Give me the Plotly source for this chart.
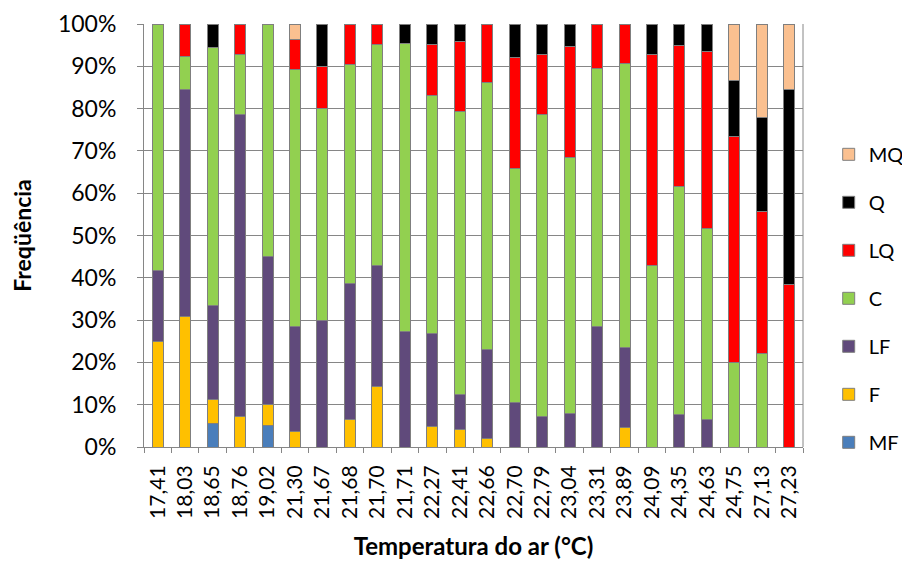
import plotly.graph_objects as go

categories = ["17,41", "18,03", "18,65", "18,76", "19,02", "21,30", "21,67", "21,68",
              "21,70", "21,71", "22,27", "22,41", "22,66", "22,70", "22,79", "23,04",
              "23,31", "23,89", "24,09", "24,35", "24,63", "24,75", "27,13", "27,23"]

MF = [0, 0, 5.6, 0, 5, 0, 0, 0, 0, 0, 0, 0, 0, 0, 0, 0, 0, 0, 0, 0, 0, 0, 0, 0]
F = [25, 30.8, 5.6, 7.1, 5, 3.6, 0, 6.5, 14.3, 0, 4.8, 4.1, 2.1, 0, 0, 0, 0, 4.6, 0, 0, 0, 0, 0, 0]
LF = [16.7, 53.8, 22.2, 71.4, 35, 25, 30, 32.3, 28.6, 27.3, 22.1, 8.3, 21.0, 10.6, 7.1, 7.9,
      28.5, 19.0, 0, 7.6, 6.5, 0, 0, 0]
C = [58.3, 7.7, 61.1, 14.3, 55, 60.7, 50, 51.6, 52.4, 68.2, 56.2, 66.9, 63.0, 55.3, 71.6, 60.5,
     61.0, 67.0, 42.9, 54.0, 45.2, 20.0, 22.2, 0]
LQ = [0, 7.7, 0, 7.1, 0, 7.1, 10, 9.7, 4.8, 0, 12.1, 16.5, 13.9, 26.2, 14.2, 26.4,
      10.5, 9.4, 50.0, 33.4, 41.9, 53.3, 33.4, 38.5]
Q = [0, 0, 5.6, 0, 0, 0, 10, 0, 0, 4.5, 4.8, 4.2, 0, 7.9, 7.1, 5.2,
     0, 0, 7.1, 5.0, 6.4, 13.4, 22.2, 46.1]
MQ = [0, 0, 0, 0, 0, 3.6, 0, 0, 0, 0, 0, 0, 0, 0, 0, 0, 0, 0, 0, 0, 0, 13.3, 22.2, 15.4]

series = [("MF", MF, "#4A7EBB"), ("F", F, "#FFC000"), ("LF", LF, "#604A7B"),
          ("C", C, "#92D050"), ("LQ", LQ, "#FF0000"), ("Q", Q, "#000000"),
          ("MQ", MQ, "#FAC090")]

FONT = "Lato, 'Open Sans', sans-serif"

fig = go.Figure()
n = len(series)
for i, (name, vals, col) in enumerate(series):
    fig.add_trace(go.Bar(
        x=categories, y=[v if v else None for v in vals], name=name,
        legendgroup=name, legendrank=n - i,
        marker=dict(color=col, line=dict(color="#7F7F7F", width=1)),
    ))

fig.update_layout(
    barmode="stack", barnorm="percent", bargap=0.6,
    width=910, height=562,
    margin=dict(l=136, r=115, t=16, b=123, autoexpand=False),
    plot_bgcolor="white", paper_bgcolor="white",
    font=dict(family=FONT, size=20, color="#000000"),
    legend=dict(x=1.039, xanchor="left", y=0.738, yanchor="top",
                traceorder="grouped", tracegroupgap=19,
                font=dict(size=20), itemwidth=30),
    shapes=[dict(type="line", xref="paper", yref="paper", x0=1, x1=1, y0=0, y1=1,
                 line=dict(color="#868686", width=1))],
)
fig.update_xaxes(
    type="category", tickangle=-90, tickson="boundaries", ticks="outside", ticklen=5,
    tickcolor="#868686", showline=True, linecolor="#868686", linewidth=1,
    tickfont=dict(size=21), ticklabelstandoff=9, automargin=False,
    title=dict(text="<b>Temperatura do ar (°C)</b>", font=dict(size=24), standoff=20),
)
fig.update_yaxes(
    range=[0, 100], dtick=10, ticksuffix="%", ticks="outside", ticklen=6,
    tickcolor="#868686", showline=True, linecolor="#868686", linewidth=1,
    showgrid=True, gridcolor="#868686", gridwidth=1, zeroline=False,
    tickfont=dict(size=23), ticklabelstandoff=16, automargin=False,
    title=dict(text="<b>Freqüência</b>", font=dict(size=23), standoff=21),
)

fig.write_html("out.html")
